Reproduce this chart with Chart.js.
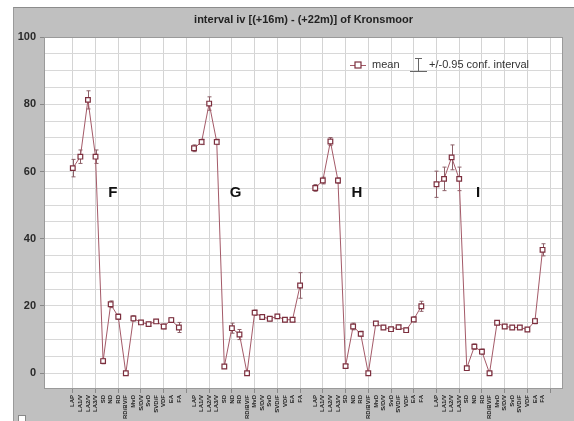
<!DOCTYPE html>
<html>
<head>
<meta charset="utf-8">
<script src="https://cdn.jsdelivr.net/npm/chart.js@4.4.1/dist/chart.umd.min.js"></script>
<style>
  html, body { margin: 0; padding: 0; background: #fff; }
  #frame { position: absolute; left: 13px; top: 7px; width: 561px; height: 414px; background: #c0c0c0; border-top: 1px solid #8c8c8c; border-left: 1px solid #9a9a9a; box-sizing: border-box; }
  #box { position: absolute; left: 18px; top: 415px; width: 6px; height: 6px; background: #fff; border: 1px solid #888; }
  #wrap { position: absolute; left: 0; top: 0; width: 574px; height: 421px; }
</style>
</head>
<body>
<div id="frame"></div>
<div id="box"></div>
<div id="wrap"><canvas id="chart" width="574" height="421"></canvas></div>
<script>
const TITLE = "interval iv [(+16m) - (+22m)] of Kronsmoor";
const GROUPS = ["F", "G", "H", "I"];
const CATEGORIES = ["LAP", "LA1/V", "LA2/V", "LA3/V", "SD", "ND", "RD", "RD/BV/F", "MvD", "S/D/V", "SvD", "SVD/F", "VDF", "EA", "FA"];

const meanF = [61.0, 64.4, 81.3, 64.4, 3.6, 20.5, 16.8, 0.0, 16.3, 15.1, 14.6, 15.4, 13.9, 15.8, 13.6];
const meanG = [66.9, 68.8, 80.2, 68.8, 2.0, 13.4, 11.5, 0.0, 18.0, 16.7, 16.2, 16.9, 15.9, 15.9, 26.1];
const meanH = [55.1, 57.3, 68.9, 57.3, 2.1, 13.9, 11.7, 0.0, 14.8, 13.6, 13.1, 13.7, 12.8, 16.0, 19.9];
const meanI = [56.2, 57.8, 64.2, 57.8, 1.5, 7.9, 6.4, 0.0, 15.0, 13.9, 13.6, 13.6, 13.0, 15.5, 36.7];

const ciF = [2.6, 2.0, 2.7, 2.0, 0.8, 1.0, 0.8, 0.3, 0.8, 0.6, 0.6, 0.6, 0.7, 0.7, 1.5];
const ciG = [1.0, 0.8, 2.0, 0.8, 0.5, 1.5, 1.5, 0.3, 0.8, 0.6, 0.6, 0.6, 0.6, 0.6, 3.8];
const ciH = [1.0, 1.0, 1.2, 0.8, 0.5, 1.0, 0.8, 0.3, 0.6, 0.6, 0.6, 0.6, 0.6, 0.8, 1.5];
const ciI = [3.9, 3.5, 3.7, 3.5, 0.5, 0.8, 0.8, 0.3, 0.6, 0.6, 0.6, 0.6, 0.6, 0.8, 1.8];

const yTicks = [0, 20, 40, 60, 80, 100];

const MEANS = [meanF, meanG, meanH, meanI];
const CIS = [ciF, ciG, ciH, ciI];
const SLOT = CATEGORIES.length + 1; // one empty slot between groups

const points = [];
const errors = [];
MEANS.forEach((series, g) => {
  series.forEach((v, i) => {
    points.push({ x: g * SLOT + i, y: v });
    errors.push(CIS[g][i]);
  });
  if (g < MEANS.length - 1) {
    points.push({ x: g * SLOT + CATEGORIES.length, y: null });
    errors.push(null);
  }
});

function labelFor(value) {
  const i = value % SLOT;
  return i < CATEGORIES.length ? CATEGORIES[i] : "";
}

const LINE = "#a45a68";
const MARK = "#7c2f3e";

const framePlugin = {
  id: "frame",
  beforeDraw(chart) {
    const { ctx, chartArea: a } = chart;
    ctx.save();
    ctx.fillStyle = "#fff";
    ctx.fillRect(a.left, a.top, a.right - a.left, a.bottom - a.top);
    ctx.fillStyle = "#222";
    ctx.font = "bold 11px 'Liberation Sans', Arial, sans-serif";
    ctx.textAlign = "center";
    ctx.textBaseline = "middle";
    ctx.fillText(TITLE, (a.left + a.right) / 2, 20);
    ctx.restore();
  },
  afterDraw(chart) {
    const { ctx, chartArea: a } = chart;
    ctx.save();
    ctx.strokeStyle = "#9a9a9a";
    ctx.lineWidth = 1;
    ctx.strokeRect(a.left + 0.5, a.top + 0.5, a.right - a.left - 1, a.bottom - a.top - 1);

    // legend
    const ly = 65;
    ctx.strokeStyle = LINE;
    ctx.beginPath();
    ctx.moveTo(350, ly + 0.5);
    ctx.lineTo(366, ly + 0.5);
    ctx.stroke();
    ctx.fillStyle = "#fff";
    ctx.strokeStyle = MARK;
    ctx.lineWidth = 1.2;
    ctx.fillRect(355, ly - 3, 6, 6);
    ctx.strokeRect(355, ly - 3, 6, 6);
    ctx.fillStyle = "#333";
    ctx.font = "11px 'Liberation Sans', Arial, sans-serif";
    ctx.textAlign = "left";
    ctx.textBaseline = "middle";
    ctx.fillText("mean", 372, ly);
    ctx.strokeStyle = "#666";
    ctx.lineWidth = 1;
    ctx.beginPath();
    ctx.moveTo(418.5, ly - 7);
    ctx.lineTo(418.5, ly + 7);
    ctx.moveTo(415, ly - 6.5);
    ctx.lineTo(422, ly - 6.5);
    ctx.moveTo(410, ly + 6.5);
    ctx.lineTo(427, ly + 6.5);
    ctx.stroke();
    ctx.fillText("+/-0.95 conf. interval", 429, ly);

    // group letters
    const xs = chart.scales.x, ys = chart.scales.y;
    ctx.fillStyle = "#111";
    ctx.font = "bold 15px 'Liberation Sans', Arial, sans-serif";
    ctx.textAlign = "center";
    GROUPS.forEach((g, k) => {
      const off = k === 0 ? 5.3 : 5.5;
      ctx.fillText(g, xs.getPixelForValue(k * SLOT + off), ys.getPixelForValue(53.5));
    });
    ctx.restore();
  },
  beforeDatasetsDraw(chart) {
    const { ctx } = chart;
    const xs = chart.scales.x, ys = chart.scales.y;
    ctx.save();
    ctx.strokeStyle = "#8d6068";
    ctx.lineWidth = 1;
    points.forEach((p, i) => {
      if (p.y == null) return;
      const x = Math.round(xs.getPixelForValue(p.x)) + 0.5;
      const top = ys.getPixelForValue(p.y + errors[i]);
      const bot = ys.getPixelForValue(p.y - errors[i]);
      ctx.beginPath();
      ctx.moveTo(x, top);
      ctx.lineTo(x, bot);
      ctx.moveTo(x - 2, top);
      ctx.lineTo(x + 2, top);
      ctx.moveTo(x - 2, bot);
      ctx.lineTo(x + 2, bot);
      ctx.stroke();
    });
    ctx.restore();
  },
};

new Chart(document.getElementById("chart"), {
  type: "line",
  data: {
    datasets: [
      {
        label: "mean",
        data: points,
        borderColor: LINE,
        borderWidth: 1,
        backgroundColor: "#fff",
        pointStyle: "rect",
        pointRadius: 3.3,
        pointBorderColor: MARK,
        pointBorderWidth: 1.2,
        pointBackgroundColor: "#fff",
        spanGaps: false,
        tension: 0,
      },
    ],
  },
  options: {
    responsive: false,
    animation: false,
    layout: { padding: { left: 0, top: 37, right: 11, bottom: 0 } },
    plugins: {
      legend: { display: false },
      tooltip: { enabled: false },
    },
    scales: {
      x: {
        type: "linear",
        min: -3.8,
        max: 64.7,
        afterBuildTicks(scale) {
          const t = [];
          for (let v = 0; v < GROUPS.length * SLOT; v++) t.push({ value: v });
          scale.ticks = t;
        },
        afterFit(scale) {
          scale.height = 32;
          scale.paddingLeft = 0;
          scale.paddingRight = 0;
        },
        grid: {
          color: (c) => (c.tick && c.tick.value % 3 === 0 ? "#d4d4d4" : "rgba(0,0,0,0)"),
          tickLength: 4,
          tickColor: (c) => (c.tick && c.tick.value % 3 === 0 ? "#888" : "rgba(0,0,0,0)"),
        },
        border: { display: false },
        ticks: {
          autoSkip: false,
          minRotation: 90,
          maxRotation: 90,
          padding: 2,
          color: "#222",
          font: { size: 6, weight: "bold", family: "'Liberation Sans', Arial, sans-serif" },
          callback: (v) => labelFor(v),
        },
      },
      y: {
        min: -4.7,
        max: 100,
        afterBuildTicks(scale) {
          const t = [];
          for (let v = 0; v <= 100; v += 5) t.push({ value: v });
          scale.ticks = t;
        },
        afterFit(scale) {
          scale.width = 44;
        },
        grid: {
          color: "#d8d8d8",
          tickLength: 4,
          tickColor: (c) => (yTicks.includes(c.tick && c.tick.value) ? "#888" : "rgba(0,0,0,0)"),
        },
        border: { display: false },
        ticks: {
          padding: 4,
          color: "#2a2a2a",
          font: { size: 11, weight: "bold", family: "'Liberation Sans', Arial, sans-serif" },
          callback: (v) => (yTicks.includes(v) ? String(v) : ""),
        },
      },
    },
  },
  plugins: [framePlugin],
});
</script>
</body>
</html>
